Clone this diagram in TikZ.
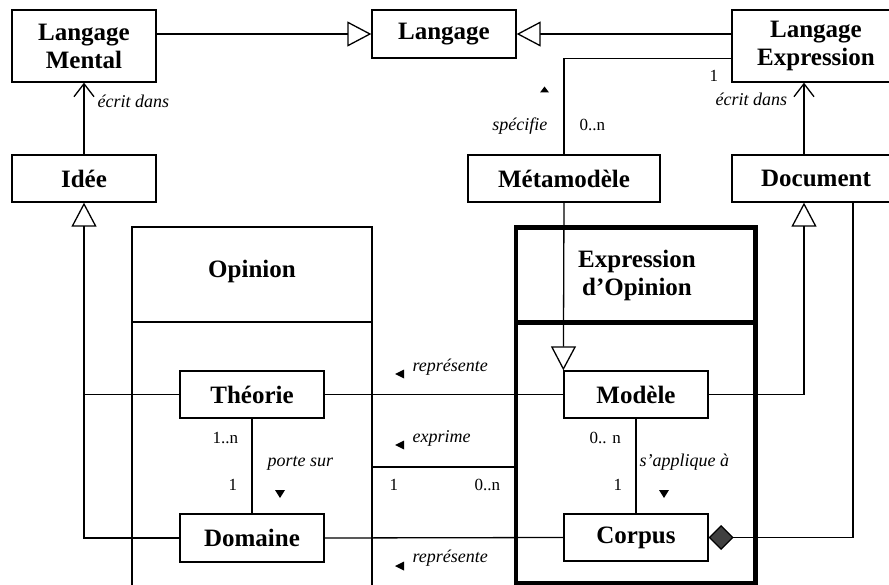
\documentclass[tikz,border=0pt]{standalone}
\usepackage{fontspec}
\setmainfont{Liberation Serif}
\usetikzlibrary{arrows.meta}

\begin{document}
\begin{tikzpicture}[x=1pt, y=-1pt, line width=1.3pt,
  cls/.style={draw, rectangle, inner sep=0pt, align=center,
    font=\fontsize{25}{28}\selectfont\bfseries},
  title/.style={inner sep=0pt, align=center, font=\fontsize{25}{28}\selectfont\bfseries},
  role/.style={inner sep=0pt, font=\fontsize{18}{20}\selectfont\itshape},
  mult/.style={inner sep=0pt, font=\fontsize{17}{19}\selectfont},
  gen/.style={-{Triangle[open, fill=white, length=24pt, width=25pt, line width=1.3pt]}},
  nav/.style={-{Straight Barb[length=13pt, width=20pt, line width=1.3pt]}},
  comp/.style={{Diamond[length=25pt, width=25pt, fill=black!75, line width=1.3pt]}-},
  frame/.style={line width=1.3pt},
  thickframe/.style={line width=4.5pt},
]
\path[use as bounding box] (0,0) rectangle (889,585);
\clip (0,0) rectangle (889,585);

% classes
\node[cls, minimum width=144pt, minimum height=72pt] (LM) at (84,46) {Langage\\Mental};
\node[cls, minimum width=144pt, minimum height=48pt] (Lang) at (444,34) {Langage};
\node[cls, minimum width=168pt, minimum height=72pt] (LE) at (816,46) {Langage\\Expression};
\node[cls, minimum width=144pt, minimum height=47pt] (Idee) at (84,178.5) {Idée};
\node[cls, minimum width=192pt, minimum height=47pt] (Meta) at (564,178.5) {Métamodèle};
\node[cls, minimum width=168pt, minimum height=47pt] (Doc) at (816,178.5) {Document};
\node[cls, minimum width=144pt, minimum height=47pt] (Theorie) at (252,394.5) {Théorie};
\node[cls, minimum width=144pt, minimum height=48pt] (Domaine) at (252,538) {Domaine};
\node[cls, minimum width=144pt, minimum height=47pt] (Modele) at (636,394.5) {Modèle};
\node[cls, minimum width=144pt, minimum height=47pt] (Corpus) at (636,537.5) {Corpus};

% packages
\draw[frame] (132,585) -- (132,227) -- (372,227) -- (372,585);
\draw[frame] (132,322) -- (372,322);
\node[title] (Opinion) at (252,271) {Opinion};

\draw[thickframe] (516,227.5) rectangle (755.5,583);
\draw[thickframe] (516,322.5) -- (755.5,322.5);
\node[title] (ExprOp) at (637,275) {Expression\\d’Opinion};

% helper coordinates
\coordinate (docx) at (804,0);
\coordinate (compx) at (853,0);
\coordinate (opR) at (372,467);
\coordinate (eoL) at (514,467);

% generalisations
\draw[gen] (LM.east |- Lang.west) -- (Lang.west);
\draw[gen] (LE.west |- Lang.east) -- (Lang.east);
\draw[gen] (Domaine.west) -| (Idee.south);
\draw (Theorie.west) -- (Theorie.west -| Idee.south);
\draw[gen] (Meta.south) -- (Modele.north west);
\draw[gen] (Modele.east) -| (Doc.south -| docx);

% associations
\draw (LE.west |- Lang.south) -| (Meta.north);
\draw[nav] (Idee.north) -- (LM.south);
\draw[nav] (Doc.north -| docx) -- (LE.south -| docx);
\draw (Theorie.east) -- (Modele.west);
\draw (Domaine.east) -- (Corpus.west);
\draw (Theorie.south) -- (Domaine.north);
\draw (Modele.south) -- (Corpus.north);
\draw (opR) -- (eoL);
\draw[comp] (Corpus.east) -| (Doc.south -| compx);

% role names
\node[role, anchor=base west] (r1) at (97,108) {écrit dans};
\node[role, anchor=base west] (r2) at (715,106) {écrit dans};
\node[role, anchor=base east] (r3) at (548,131) {spécifie};
\node[role, anchor=base west] (r4) at (412,371) {représente};
\node[role, anchor=base west] (r5) at (412,442) {exprime};
\node[role, anchor=base west] (r6) at (412,562) {représente};
\node[role, anchor=base west] (r7) at (267,466) {porte sur};
\node[role, anchor=base west] (r8) at (639,466) {s’applique à};

% multiplicities
\node[mult, anchor=base west] (m1) at (709,82) {1};
\node[mult, anchor=base west] (m2) at (579,131) {0..n};
\node[mult, anchor=base west] (m3) at (212,443) {1..n};
\node[mult, anchor=base west] (m4) at (228,490) {1};
\node[mult, anchor=base west] (m5) at (389,490) {1};
\node[mult, anchor=base west] (m6) at (474,490) {0..n};
\node[mult, anchor=base west] (m7) at (589,443) {0.. n};
\node[mult, anchor=base west] (m8) at (613,490) {1};

% reading-direction marks
\fill (540,92.5) -- (549,92.5) -- (544.5,86.5) -- cycle;
\fill (275,490) -- (285,490) -- (280,498) -- cycle;
\fill (659,490) -- (669,490) -- (664,498) -- cycle;
\fill (395,374) -- (404,369.5) -- (404,378.5) -- cycle;
\fill (395,445) -- (404,440.5) -- (404,449.5) -- cycle;
\fill (395,566) -- (404,561.5) -- (404,570.5) -- cycle;
\end{tikzpicture}
\end{document}
